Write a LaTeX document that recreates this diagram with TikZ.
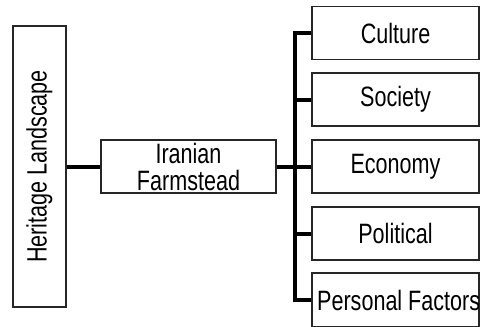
\documentclass[tikz,border=0pt]{standalone}
\usepackage{fontspec}
\setmainfont[FakeStretch=0.77]{Liberation Sans}
\begin{document}
\begin{tikzpicture}[x=1pt,y=-1pt,
  box/.style={draw=black!85, line width=1.2pt, inner sep=0pt, align=center,
    font=\fontsize{28}{27}\selectfont},
  conn/.style={line width=4pt, black, line join=miter, line cap=butt}]
\useasboundingbox (0,0) rectangle (480,327);
\clip (0,0) rectangle (480,327);
\node[box, minimum width=53pt, minimum height=281pt] (her) at (39.5,166.5) {};
\node[rotate=90, font=\fontsize{28}{27}\selectfont] (hertxt) at (her.center) {Heritage Landscape};
\node[box, minimum width=175pt, minimum height=53pt] (iran) at (188.5,166.5) {Iranian\\Farmstead};
\node[box, minimum width=167pt, minimum height=53pt] (cul) at (395.5,33) {Culture};
\node[box, minimum width=167pt, minimum height=53pt] (soc) at (395.5,99.5) {Society};
\node[box, minimum width=167pt, minimum height=53pt] (eco) at (395.5,166.5) {Economy};
\node[box, minimum width=167pt, minimum height=53pt] (pol) at (395.5,233.5) {Political};
\node[box, minimum width=167pt, minimum height=54pt] (pers) at (395.5,300) {};
\node[anchor=west, inner sep=0pt, font=\fontsize{28}{27}\selectfont] (perstxt) at (317,300) {Personal Factors};
\coordinate (trunk) at (295,166.5);
\draw[conn] (her.east |- iran.west) -- (iran.west);
\draw[conn] (iran.east) -- (trunk);
\draw[conn] (cul.west) -- (cul.west -| trunk) -- (pers.west -| trunk) -- (pers.west);
\draw[conn] (soc.west) -- (soc.west -| trunk);
\draw[conn] (eco.west) -- (eco.west -| trunk);
\draw[conn] (pol.west) -- (pol.west -| trunk);
\end{tikzpicture}
\end{document}
